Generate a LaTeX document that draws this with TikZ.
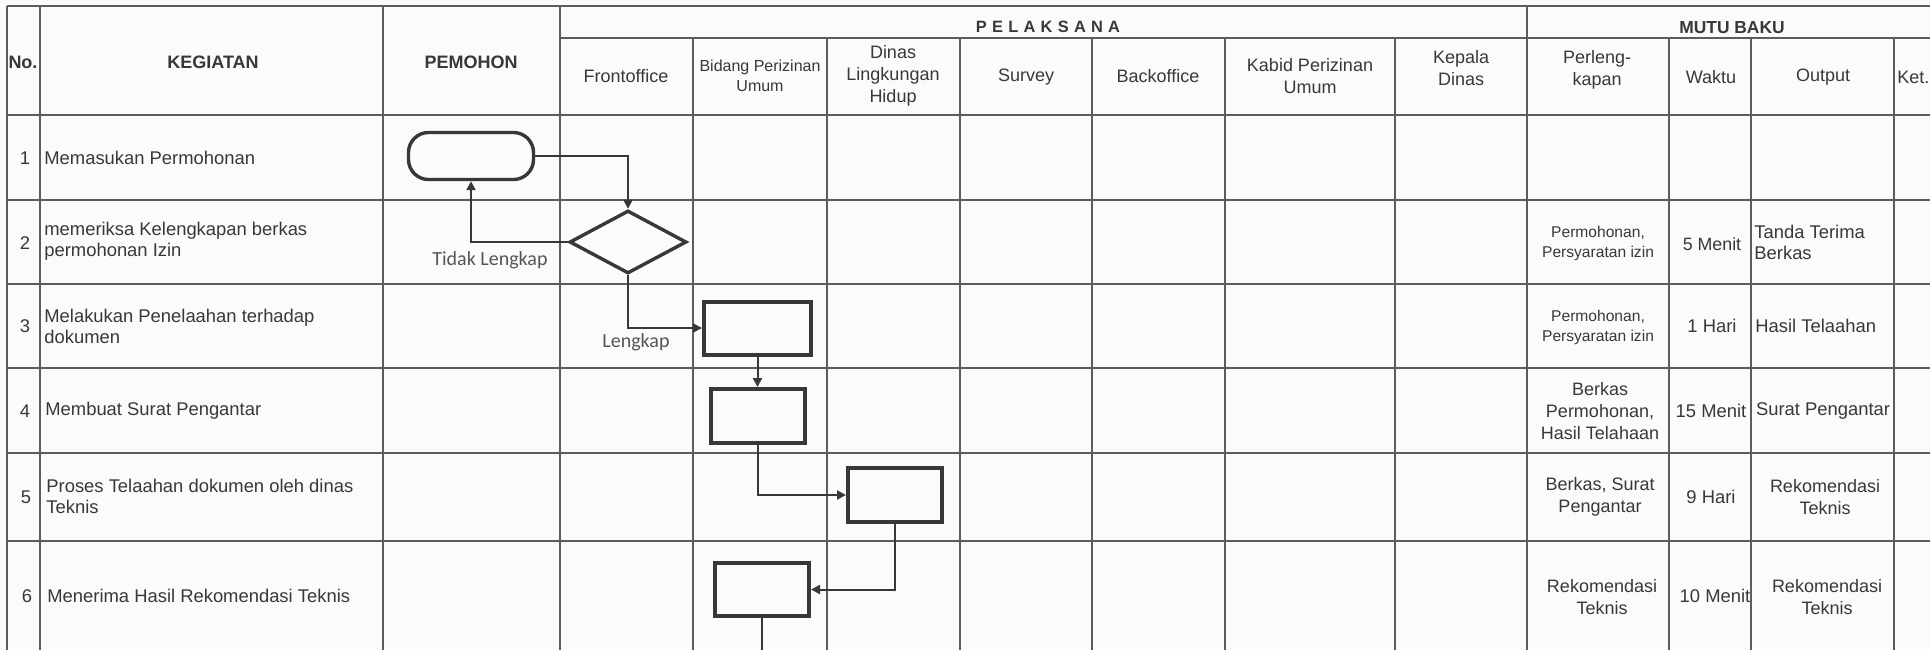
\documentclass[tikz,border=0pt]{standalone}
\usepackage{fontspec}
\setmainfont{Liberation Sans}
\newfontfamily\calib{Carlito}
\usetikzlibrary{shapes.geometric,arrows.meta}
\definecolor{ink}{HTML}{383838}
\definecolor{gridc}{HTML}{5C5C5C}
\definecolor{paper}{HTML}{FBFBF9}
\definecolor{lbl}{HTML}{555555}
\begin{document}
\begin{tikzpicture}[x=0.5pt,y=-0.5pt,
  gridline/.style={draw=gridc, line width=0.9pt},
  txt/.style={inner sep=0pt, text=ink, font=\fontsize{9.2}{10.5}\selectfont, align=center},
  hdr/.style={txt, font=\bfseries\fontsize{9}{11}\selectfont},
  sub/.style={txt, font=\fontsize{9}{11}\selectfont},
  small/.style={txt, font=\fontsize{7.8}{10}\selectfont},
  lft/.style={txt, anchor=west, align=left},
  term/.style={draw=ink, line width=1.7pt, rounded corners=10pt, minimum width=62.5pt, minimum height=23.5pt, inner sep=0pt},
  dec/.style={draw=ink, line width=1.7pt, diamond, minimum width=58.5pt, minimum height=31.5pt, inner sep=0pt},
  proc/.style={draw=ink, line width=2pt, minimum width=47pt, minimum height=27pt, inner sep=0pt},
  conn/.style={draw=ink, line width=1pt, -{Triangle[length=4.5pt,width=4.5pt]}},
  plain/.style={draw=ink, line width=1pt},
  cond/.style={inner sep=0pt, text=lbl, font=\calib\fontsize{10}{12}\selectfont},
]
\useasboundingbox (0,0) rectangle (1930,649);
\clip (0,0) rectangle (1930,649);
\fill[paper] (0,0) rectangle (1930,649);

% table grid
\draw[gridline] (7,6) -- (1945,6);
\draw[gridline] (560,38) -- (1945,38);
\foreach \y in {115,200,284,368,453,541} \draw[gridline] (7,\y) -- (1945,\y);
\foreach \x in {7,40,383,560,1527} \draw[gridline] (\x,6) -- (\x,660);
\foreach \x in {693,827,960,1092,1225,1395,1669,1751,1894} \draw[gridline] (\x,38) -- (\x,660);

% header
\node[hdr] (hno) at (23,62) {No.};
\node[hdr] (hkeg) at (213,62) {KEGIATAN};
\node[hdr] (hpem) at (471,62) {PEMOHON};
\node[hdr, font=\bfseries\fontsize{8.2}{10}\selectfont\addfontfeature{LetterSpace=32}] (hpel) at (1048,27) {PELAKSANA};
\node[hdr, font=\bfseries\fontsize{8.7}{10}\selectfont] (hmutu) at (1732,28) {MUTU BAKU};
\node[sub] (hfo) at (626,76) {Frontoffice};
\node[sub, font=\fontsize{8}{10}\selectfont] (hbid) at (760,76) {Bidang Perizinan\\Umum};
\node[sub] (hdin) at (893,76) {Dinas\\Lingkungan\\Hidup};
\node[sub] (hsur) at (1026,77) {Survey};
\node[sub] (hbo) at (1158,76) {Backoffice};
\node[sub] (hkab) at (1310,76) {Kabid Perizinan\\Umum};
\node[sub] (hkep) at (1461,68.5) {Kepala\\Dinas};
\node[sub] (hper) at (1597,69.5) {Perleng-\\kapan};
\node[sub] (hwak) at (1711,77) {Waktu};
\node[sub] (hout) at (1823,77) {Output};
\node[sub, anchor=west] (hket) at (1897,77) {Ket.};

% row numbers and activities
\node[txt] (n1) at (25,158) {1};
\node[txt] (n2) at (25,243) {2};
\node[txt] (n3) at (25,326) {3};
\node[txt] (n4) at (25,411) {4};
\node[txt] (n5) at (26,497) {5};
\node[txt] (n6) at (27,596) {6};
\node[lft] (k1) at (44,158) {Memasukan Permohonan};
\node[lft] (k2) at (44,241.5) {memeriksa Kelengkapan berkas\\permohonan Izin};
\node[lft] (k3) at (44,326) {Melakukan Penelaahan terhadap\\dokumen};
\node[lft] (k4) at (45,411) {Membuat Surat Pengantar};
\node[lft] (k5) at (46,496.5) {Proses Telaahan dokumen oleh dinas\\Teknis};
\node[lft] (k6) at (47,596) {Menerima Hasil Rekomendasi Teknis};

% mutu baku
\node[small] (p2) at (1598,243) {Permohonan,\\Persyaratan izin};
\node[txt, font=\fontsize{8.9}{10}\selectfont] (w2) at (1712,244) {5 Menit};
\node[lft] (o2) at (1754,242) {Tanda Terima\\Berkas};
\node[small] (p3) at (1598,327) {Permohonan,\\Persyaratan izin};
\node[txt] (w3) at (1712,326) {1 Hari};
\node[lft] (o3) at (1755,326) {Hasil Telaahan};
\node[txt, font=\fontsize{9}{11}\selectfont] (p4) at (1600,411) {Berkas\\Permohonan,\\Hasil Telahaan};
\node[txt] (w4) at (1711,411) {15 Menit};
\node[txt] (o4) at (1823,411) {Surat Pengantar};
\node[txt, font=\fontsize{9}{11}\selectfont] (p5) at (1600,497) {Berkas, Surat\\Pengantar};
\node[txt] (w5) at (1711,497) {9 Hari};
\node[txt, font=\fontsize{9}{11}\selectfont] (o5) at (1825,497) {Rekomendasi\\Teknis};
\node[txt, font=\fontsize{9}{11}\selectfont] (p6) at (1602,597) {Rekomendasi\\Teknis};
\node[txt] (w6) at (1715,596) {10 Menit};
\node[txt, font=\fontsize{9}{11}\selectfont] (o6) at (1827,597) {Rekomendasi\\Teknis};

% flowchart
\node[term] (t1) at (471,156) {};
\node[dec] (dia) at (628,242) {};
\node[proc, minimum width=53.5pt, minimum height=26.5pt] (b3) at (757.5,328) {};
\node[proc] (b4) at (758,416) {};
\node[proc] (b5) at (895,495) {};
\node[proc, minimum height=26.5pt] (b6) at (762,589.5) {};
\coordinate (b6out) at (762,665);

\draw[conn] (t1.east) -| (dia.north);
\draw[conn] (dia.west) -| (t1.south);
\draw[conn] (dia.south) |- (b3.west);
\draw[conn] (b3.south) -- (b3.south |- b4.north);
\draw[conn] (b4.south) |- (b5.west);
\draw[conn] (b5.south) |- (b6.east);
\draw[plain] (b6.south) -- (b6out);

\node[cond] (ltidak) at (490,260) {Tidak Lengkap};
\node[cond] (llengkap) at (636,342) {Lengkap};
\end{tikzpicture}
\end{document}
